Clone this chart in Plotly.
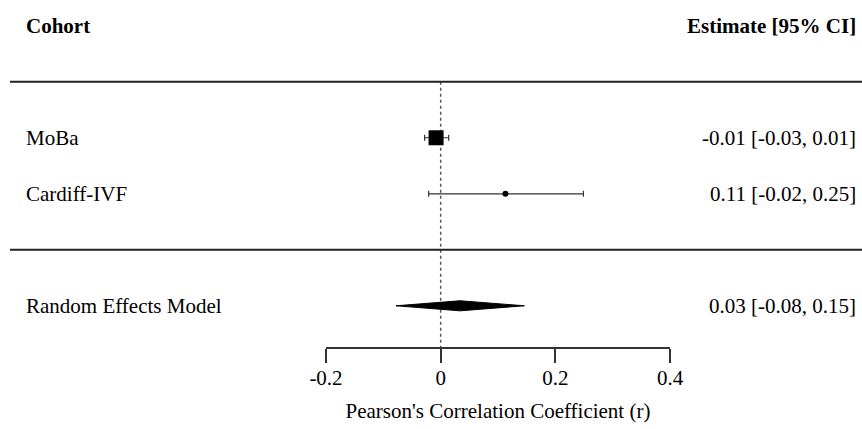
import plotly.graph_objects as go

# ---- data ----
cohorts = ["MoBa", "Cardiff-IVF"]
estimates = [-0.008, 0.113]
ci_low = [-0.028, -0.021]
ci_high = [0.014, 0.249]
model_label = "Random Effects Model"
re_est, re_low, re_high = 0.034, -0.078, 0.146
tick_vals = [-0.2, 0, 0.2, 0.4]
tick_text = ["-0.2", "0", "0.2", "0.4"]
axis_title = "Pearson's Correlation Coefficient (r)"
header_left = "Cohort"
header_right = "Estimate [95% CI]"

# ---- layout constants ----
W, H = 862, 429
FONT = "Liberation Serif, Times New Roman, serif"
FS = 21
row_y = [1, 2]          # study rows (y units)
re_y = 4
header_y = -1
sep_lines = [0, 3]
axis_y = 4.75
yr = [6.2, -1.46]

def fmt(v):
    s = f"{v:.2f}"
    return "0.00" if s == "-0.00" else s

fig = go.Figure()

marker_cfg = [dict(symbol="square", size=15), dict(symbol="circle", size=6)]
for i, c in enumerate(cohorts):
    fig.add_trace(go.Scatter(
        x=[estimates[i]], y=[row_y[i]], mode="markers",
        marker=dict(color="black", **marker_cfg[i]),
        error_x=dict(type="data", symmetric=False,
                     array=[ci_high[i] - estimates[i]],
                     arrayminus=[estimates[i] - ci_low[i]],
                     thickness=1.2, width=3, color="#333"),
        showlegend=False, hoverinfo="skip", cliponaxis=False))

h = 0.09
fig.add_trace(go.Scatter(
    x=[re_low, re_est, re_high, re_est, re_low],
    y=[re_y, re_y - h, re_y, re_y + h, re_y],
    mode="lines", fill="toself", fillcolor="black",
    line=dict(color="black", width=1), showlegend=False, hoverinfo="skip"))

# reference line at 0
fig.add_shape(type="line", xref="x", yref="y", x0=0, x1=0, y0=0, y1=axis_y,
              line=dict(color="#555", width=1.5, dash="dot"), layer="below")
for yl in sep_lines:
    fig.add_shape(type="line", xref="paper", yref="y", x0=10 / W, x1=1,
                  y0=yl, y1=yl, line=dict(color="#222", width=2))

ann = []
ann.append(dict(x=24 / W, y=header_y, text=f"<b>{header_left}</b>", xanchor="left"))
ann.append(dict(x=858 / W, y=header_y, text=f"<b>{header_right}</b>", xanchor="right"))
for i, c in enumerate(cohorts):
    ann.append(dict(x=24 / W, y=row_y[i], text=c, xanchor="left"))
    ann.append(dict(x=858 / W, y=row_y[i],
                    text=f"{fmt(estimates[i])} [{fmt(ci_low[i])}, {fmt(ci_high[i])}]",
                    xanchor="right"))
ann.append(dict(x=24 / W, y=re_y, text=model_label, xanchor="left"))
ann.append(dict(x=858 / W, y=re_y,
                text=f"{fmt(re_est)} [{fmt(re_low)}, {fmt(re_high)}]", xanchor="right"))
for a in ann:
    a.update(xref="paper", yref="y", showarrow=False, yanchor="middle",
             font=dict(family=FONT, size=FS, color="black"))
fig.update_layout(annotations=ann)

fig.update_layout(
    width=W, height=H, margin=dict(l=0, r=0, t=0, b=0, pad=0, autoexpand=False),
    paper_bgcolor="white", plot_bgcolor="white",
    font=dict(family=FONT, size=FS, color="black"),
    xaxis=dict(domain=[326 / W, 670 / W], range=[-0.2, 0.4],
               anchor="free", position=1 - 348 / H, automargin=False,
               tickvals=tick_vals, ticktext=tick_text,
               ticks="outside", ticklen=14, tickwidth=1.5, tickcolor="#333",
               ticklabelstandoff=-3,
               showline=True, linecolor="#333", linewidth=1.5,
               showgrid=False, zeroline=False,
               tickfont=dict(family=FONT, size=FS),
               title=dict(text=axis_title, standoff=13,
                          font=dict(family=FONT, size=FS))),
    yaxis=dict(domain=[0, 1], range=yr, visible=False, showgrid=False,
               zeroline=False, automargin=False),
)

fig.write_html("out.html", config={"displayModeBar": False},
               post_script="document.body.style.margin='0px';document.body.style.padding='0px';")
